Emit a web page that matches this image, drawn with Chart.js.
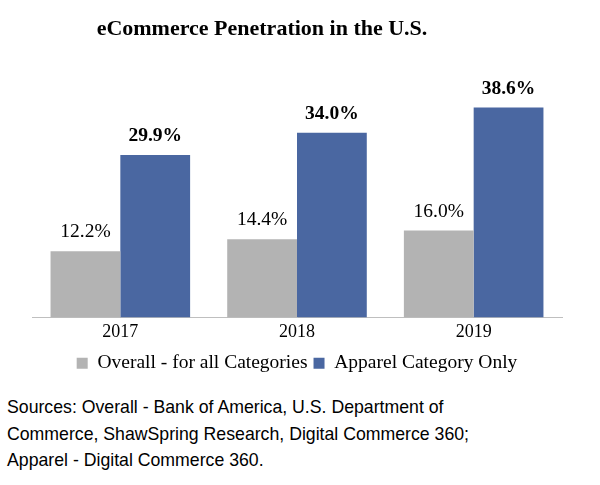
<!DOCTYPE html>
<html>
<head>
<meta charset="utf-8">
<script src="https://cdn.jsdelivr.net/npm/chart.js@4"></script>
<style>
    body { margin: 0; background: #fff; }
    #wrap { position: relative; width: 600px; height: 485px; }
    #title {
        position: absolute; left: 0; top: 15px; width: 524px;
        text-align: center; font: bold 22px "Liberation Serif", "Times New Roman", serif;
        color: #000;
    }
    #chart_box { position: absolute; left: 0; top: 0; width: 600px; height: 386px; }
    #sources {
        position: absolute; left: 7px; top: 394px;
        font: 17.7px "Liberation Sans", Arial, sans-serif; line-height: 26.5px; color: #000;
    }
</style>
</head>
<body>
<div id="wrap">
    <div id="chart_box"><canvas id="ecom_chart"></canvas></div>
    <div id="title">eCommerce Penetration in the U.S.</div>
    <div id="sources">Sources: Overall - Bank of America, U.S. Department of<br>Commerce, ShawSpring Research, Digital Commerce 360;<br>Apparel - Digital Commerce 360.</div>
</div>
<script>
const years = ['2017', '2018', '2019'];
const overall = [12.2, 14.4, 16.0];
const apparel = [29.9, 34.0, 38.6];

const ecom_chart = document.getElementById('ecom_chart');
ecom_chart.width = 600;
ecom_chart.height = 386;

const serif = '"Liberation Serif", "Times New Roman", serif';

// value labels above the bars
const barLabels = {
    id: 'barLabels',
    afterDatasetsDraw(chart) {
        const ctx = chart.ctx;
        ctx.save();
        ctx.textAlign = 'center';
        ctx.textBaseline = 'middle';
        ctx.fillStyle = '#000';
        chart.data.datasets.forEach((ds, i) => {
            const meta = chart.getDatasetMeta(i);
            ctx.font = (i === 1 ? 'bold ' : '') + '19.5px ' + serif;
            meta.data.forEach((bar, j) => {
                ctx.fillText(ds.data[j].toFixed(1) + '%', bar.x, bar.y - 19);
            });
        });
        ctx.restore();
    }
};

const config = {
    type: 'bar',
    data: {
        labels: years,
        datasets: [{
            label: 'Overall - for all Categories',
            data: overall,
            backgroundColor: '#b3b3b3',
            categoryPercentage: 0.79,
            barPercentage: 1.0
        }, {
            label: 'Apparel Category Only',
            data: apparel,
            backgroundColor: '#4a67a1',
            categoryPercentage: 0.79,
            barPercentage: 1.0
        }]
    },
    options: {
        responsive: false,
        animation: false,
        layout: {
            padding: { left: 32, right: 38, top: 100, bottom: 3 }
        },
        plugins: {
            title: { display: false },
            tooltip: { enabled: false },
            legend: {
                position: 'bottom',
                labels: {
                    color: '#000',
                    boxWidth: 11,
                    boxHeight: 11,
                    padding: 6,
                    font: { family: serif, size: 19.5, lineHeight: 1 }
                }
            }
        },
        scales: {
            x: {
                grid: { display: false, drawTicks: false },
                border: { display: true, color: '#bfbfbf', width: 1 },
                ticks: {
                    color: '#000',
                    padding: 6,
                    font: { family: serif, size: 18, lineHeight: 1 }
                }
            },
            y: {
                display: false,
                min: 0,
                max: 40
            }
        }
    },
    plugins: [barLabels]
};

const myChart = new Chart(ecom_chart, config);
</script>
</body>
</html>
